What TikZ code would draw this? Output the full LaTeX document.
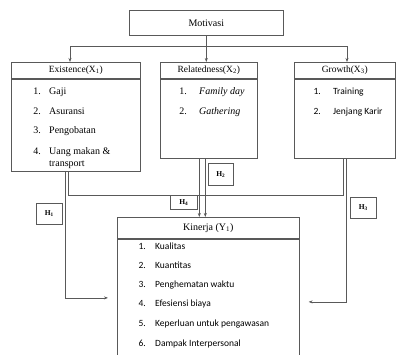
\documentclass[tikz,border=0pt]{standalone}
\usepackage{fontspec}
\setmainfont{Liberation Serif}
\newfontfamily\calib{Carlito}
\usetikzlibrary{arrows.meta}
\tikzset{
	box/.style={draw=black!65, line width=0.6pt, inner sep=0pt, anchor=north west, font=\fontsize{9.5}{11}\selectfont},
	hbox/.style={draw=black!65, line width=0.6pt, inner sep=0pt, anchor=north west, font=\fontsize{7.5}{8}\selectfont\bfseries},
	num/.style={anchor=base east, inner sep=0pt},
	itm/.style={anchor=base west, inner sep=0pt},
	line/.style={draw=black!65, line width=0.6pt},
	arr/.style={line, -{Stealth[length=4pt, width=3pt]}}
}

\begin{document}
\begin{tikzpicture}[x=1pt, y=-1pt]
		%%%%% START %%%%%
		\useasboundingbox (0,0) rectangle (396,354);
		
		\node[box, minimum width=154, minimum height=25, font=\fontsize{10}{12}\selectfont] (mot) at (129,10) {Motivasi};
		
		\node[box, minimum width=129, minimum height=16] (exH) at (11,62) {Existence(X\textsubscript{1})};
		\node[box, minimum width=129, minimum height=92] (exB) at (exH.south west) {};
		
		\node[box, minimum width=97, minimum height=16] (reH) at (160,62) {Relatedness(X\textsubscript{2})};
		\node[box, minimum width=97, minimum height=79] (reB) at (reH.south west) {};
		
		\node[box, minimum width=101, minimum height=16] (grH) at (294,62) {Growth(X\textsubscript{3})};
		\node[box, minimum width=101, minimum height=79] (grB) at (grH.south west) {};
		
		\node[box, minimum width=182, minimum height=21, font=\fontsize{10}{12}\selectfont] (kiH) at (117,217) {Kinerja (Y\textsubscript{1})};
		\node[box, minimum width=182, minimum height=122] (kiB) at (kiH.south west) {};
		
		% items
		\begin{scope}[font=\fontsize{10}{12}\selectfont]
		\foreach \y/\n/\t [count=\i] in {94.5/1./Gaji, 114/2./Asuransi, 133.5/3./Pengobatan, 154/4./Uang makan \&}{
			\node[num] (exN\i) at (41,\y) {\n};
			\node[itm] (exT\i) at (49,\y) {\t};
		}
		\node[itm] (exT5) at (49,166) {transport};
		\foreach \y/\n/\t [count=\i] in {94.5/1./Family day, 114/2./Gathering}{
			\node[num] (reN\i) at (187,\y) {\n};
			\node[itm, font=\itshape] (reT\i) at (199,\y) {\t};
		}
		\end{scope}
		
		\begin{scope}[font=\calib\fontsize{9.5}{11}\selectfont]
		\foreach \y/\n/\t [count=\i] in {94.5/1./Training, 114/2./Jenjang Karir}{
			\node[num] (grN\i) at (321,\y) {\n};
			\node[itm] (grT\i) at (333,\y) {\t};
		}
		\foreach \y/\n/\t [count=\i] in {249/1./Kualitas, 268/2./Kuantitas, 287/3./Penghematan waktu, 306/4./Efesiensi biaya, 326/5./Keperluan untuk pengawasan, 346/6./Dampak Interpersonal}{
			\node[num] (kiN\i) at (146,\y) {\n};
			\node[itm] (kiT\i) at (155,\y) {\t};
		}
		\end{scope}
		
		% from Motivasi
		\coordinate (busL) at (70,46);
		\coordinate (busR) at (347,46);
		\draw[line] (busL) -- (busR);
		\draw[line] (mot.south) -- (mot.south |- busL);
		\draw[arr] (busL) -- (busL |- exH.north);
		\draw[arr] (busR) -- (busR |- grH.north);
		\draw[arr] (mot.south |- busL) -- (mot.south |- reH.north);
		
		% to Kinerja
		\draw[line] ([xshift=-7.5pt]exB.south) -- ++(0,24) -| ([xshift=-1.5pt]grB.south);
		\draw[arr] ([xshift=-10.5pt]exB.south) |- ([xshift=-9pt, yshift=2pt]kiB.west);
		\draw[arr] ([xshift=1.5pt]grB.south) |- ([xshift=9pt, yshift=-2pt]kiB.east);
		\draw[arr] ([xshift=-9.5pt]reB.south) -- ([xshift=-9.5pt]reB.south |- kiH.north);
		\draw[arr] ([xshift=-3.5pt]reB.south) -- ([xshift=-3.5pt]reB.south |- kiH.north);
		
		\node[hbox, minimum width=26, minimum height=21] (h1) at (36,203) {H\textsubscript{1}};
		\node[hbox, minimum width=25, minimum height=22] (h2) at (208,163) {H\textsubscript{2}};
		\node[hbox, minimum width=26, minimum height=21] (h3) at (350,197) {H\textsubscript{3}};
		\node[hbox, minimum width=27, minimum height=14] (h4) at (170,195) {H\textsubscript{4}};
		%%%%% END %%%%%
\end{tikzpicture}
\end{document}
